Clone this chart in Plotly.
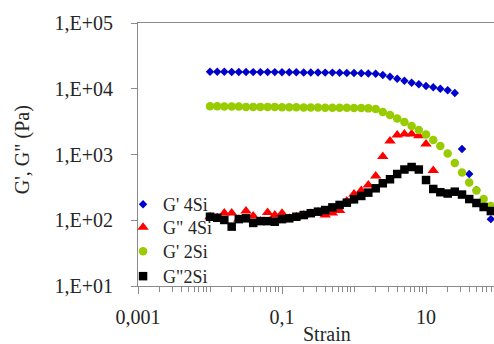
import plotly.graph_objects as go

# Strain amplitude sweep (log-spaced, 10 points per decade)
strain = [0.01, 0.0126, 0.0158, 0.02, 0.0251, 0.0316, 0.0398, 0.0501, 0.0631, 0.0794,
          0.1, 0.126, 0.158, 0.2, 0.251, 0.316, 0.398, 0.501, 0.631, 0.794,
          1, 1.26, 1.58, 2, 2.51, 3.16, 3.98, 5.01, 6.31, 7.94,
          10, 12.6, 15.8, 20, 25.1, 31.6, 39.8, 50.1, 63.1, 79.4]

# Storage modulus G' (Pa), 4Si
g1_4si = [18200, 18100, 18100, 18000, 18000, 18000, 17900, 17900, 17900, 17900,
          17800, 17800, 17800, 17700, 17700, 17700, 17600, 17600, 17500, 17400,
          17300, 17200, 17000, 16900, 16200, 15250, 14220, 13260, 12360, 11690,
          11010, 10520, 10020, 9470, 8610, 1213, 505, 288, 165, 104]

# Loss modulus G'' (Pa), 4Si
g2_4si = [113, 109, 129, 129, 104, 138, 116, 97, 131, 120,
          128, 107, 113, 120, 127, 134, 120, 129, 141, 196,
          251, 283, 343, 471, 933, 1603, 1982, 2050, 2050, 1931,
          1445, 571]

# Storage modulus G' (Pa), 2Si
g1_2si = [5400, 5400, 5350, 5350, 5350, 5300, 5300, 5300, 5300, 5300,
          5250, 5250, 5250, 5200, 5200, 5200, 5150, 5150, 5150, 5150,
          5100, 5080, 5030, 4920, 4430, 3990, 3530, 3120, 2710, 2360,
          2015, 1663, 1347, 1035, 743, 532, 375, 283, 210, 165]

# Loss modulus G'' (Pa), 2Si
g2_2si = [113, 109, 101, 80, 104, 107, 91, 97, 97, 95,
          104, 107, 113, 120, 128, 135, 143, 157, 171, 185,
          208, 234, 263, 306, 365, 420, 505, 591, 645, 591,
          409, 299, 267, 255, 272, 246, 210, 183, 159, 138]

x_ticks = [0.001, 0.1, 10]
x_ticktext = ["0,001", "0,1", "10"]
y_ticks = [10, 100, 1000, 10000, 100000]
y_ticktext = ["1,E+01", "1,E+02", "1,E+03", "1,E+04", "1,E+05"]

FONT = "Times New Roman, Liberation Serif, DejaVu Serif, serif"
AXIS_GREY = "#8a8a8a"
TEXT = "#262626"

# minor ticks at 2..10 x each decade, skipping the labelled ones
minor_vals = [k * 10.0 ** e for e in range(-3, 3) for k in range(1, 10)
              if not any(abs(k * 10.0 ** e - t) < 1e-12 for t in x_ticks)]

# name, values, symbol, size, colour, legend id, legend top (paper y)
series = [
    ("G' 4Si", g1_4si, "diamond", 6.5, "#0000cc", "legend", 0.380),
    ('G" 4Si', g2_4si, "triangle-up", 10, "#ff0000", "legend2", 0.2926),
    ("G' 2Si", g1_2si, "circle", 8.5, "#99cc00", "legend3", 0.2016),
    ('G"2Si', g2_2si, "square", 8.5, "#000000", "legend4", 0.1066),
]

fig = go.Figure()
legends = {}
for name, vals, sym, size, col, leg, top in series:
    fig.add_trace(go.Scatter(
        x=strain[:len(vals)], y=vals, mode="markers", name=name,
        marker=dict(symbol=sym, size=size, color=col, line=dict(width=0)),
        legend=leg,
    ))
    legends[leg] = dict(
        x=-0.042, y=top, xanchor="left", yanchor="top",
        bgcolor="rgba(0,0,0,0)", itemwidth=30,
        font=dict(family=FONT, size=18, color=TEXT),
    )

fig.update_layout(
    width=494, height=344,
    margin=dict(l=138, r=0, t=23, b=58),
    paper_bgcolor="white", plot_bgcolor="white",
    font=dict(family=FONT, color=TEXT, size=20),
    showlegend=True,
    **legends,
    xaxis=dict(
        type="log", range=[-3, 1.944],
        tickmode="array", tickvals=x_ticks, ticktext=x_ticktext,
        ticks="outside", ticklen=7, tickcolor=AXIS_GREY, tickwidth=1,
        showline=True, linecolor=AXIS_GREY, linewidth=1, mirror=True,
        showgrid=False, zeroline=False,
        tickfont=dict(family=FONT, size=20, color=TEXT),
        ticklabelstandoff=6,
        minor=dict(tickmode="array", tickvals=minor_vals, ticks="outside",
                   ticklen=5, tickcolor=AXIS_GREY, tickwidth=1, showgrid=False),
    ),
    yaxis=dict(
        type="log", range=[1, 5],
        tickmode="array", tickvals=y_ticks, ticktext=y_ticktext,
        ticks="outside", ticklen=6, tickcolor=AXIS_GREY, tickwidth=1,
        showline=True, linecolor=AXIS_GREY, linewidth=1,
        showgrid=False, zeroline=False,
        tickfont=dict(family=FONT, size=20, color=TEXT),
        ticklabelstandoff=14,
    ),
    annotations=[
        dict(text="Strain", xref="paper", yref="paper", x=0.531, y=-0.232,
             xanchor="center", yanchor="bottom", showarrow=False,
             font=dict(family=FONT, size=20, color=TEXT)),
        dict(text='G\', G" (Pa)', xref="paper", yref="paper", x=-0.326, y=0.52,
             xanchor="center", yanchor="middle", textangle=-90, showarrow=False,
             font=dict(family=FONT, size=20, color=TEXT)),
    ],
)

fig.write_html("out.html")
